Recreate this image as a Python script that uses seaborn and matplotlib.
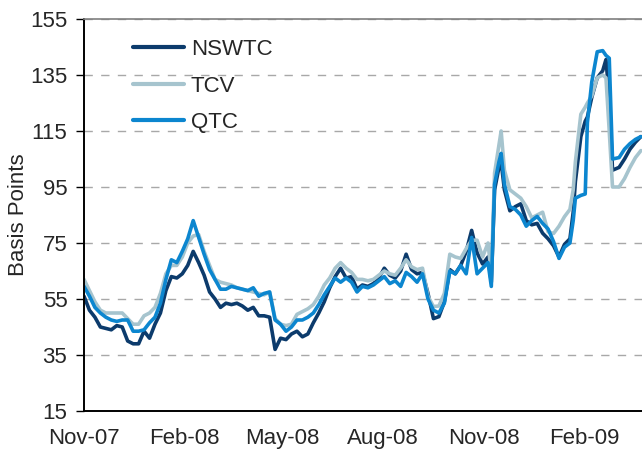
import pandas as pd
import numpy as np
from matplotlib import pyplot as plt
import matplotlib.dates as mdates
import seaborn as sns

# days after 1 Nov 2007
days = [0, 5, 10, 15, 20, 25, 30, 35, 40, 45, 50, 55, 60, 65, 70, 75, 80, 85, 90, 95,
        100, 105, 110, 115, 120, 125, 130, 135, 140, 145, 150, 155, 160, 165, 170, 175,
        180, 185, 190, 195, 200, 205, 210, 215, 220, 225, 230, 235, 240, 245, 250, 255,
        260, 265, 270, 275, 280, 285, 290, 295, 300, 305, 310, 315, 320, 325, 330, 335,
        340, 345, 350, 355, 360, 365, 370, 373, 376, 380, 382, 385, 390, 395, 400, 405,
        410, 415, 420, 425, 430, 435, 440, 445, 448, 450, 455, 459, 461, 465, 470, 475,
        478, 481, 484, 490, 495, 500, 505, 510]

nswtc = [56, 51, 48.5, 45, 44.5, 44, 45.5, 45, 40, 39, 39, 43.5, 41, 46, 50, 58, 63, 62.5, 64, 67,
         72, 68, 63.5, 57.5, 55, 52, 53.5, 53, 53.5, 52.5, 51, 52, 49, 49, 48.5, 37,
         41, 40.5, 42.5, 43.5, 41.5, 42.5, 46.5, 50, 54, 59, 63, 66, 62.5, 63, 58.5, 60,
         59.5, 60.5, 62.5, 66, 63.5, 62.5, 65, 71, 65.5, 64, 64.5, 57, 48, 48.7, 54, 65.5,
         64, 67, 72, 79.5, 71.5, 67.5, 70, 61, 94, 102, 104, 94, 86.5, 88, 89, 83,
         81.5, 82, 78.5, 76.5, 74, 70, 74.5, 76.5, 86, 97, 113, 118.5, 120, 127, 134, 136.5,
         140.5, 127, 101, 102, 105, 108.5, 111, 113]

tcv = [62, 58, 54, 51, 50, 50, 50, 50, 48, 46, 46, 49, 50, 52, 57, 64, 67, 67, 70, 75,
       77.5, 78, 72, 67, 62, 61, 60.5, 60, 59, 58.5, 58, 57.5, 57, 56.5, 57.5, 48,
       46, 45.5, 46, 49.5, 50.5, 51.5, 53, 56, 60, 62.5, 66, 68, 66, 64.5, 62, 62,
       61.5, 62, 63.5, 65, 64, 63.5, 66, 69, 66.5, 65.5, 66, 56, 52.3, 52.5, 57, 71,
       70, 69.5, 73, 76, 76, 70, 75, 64, 100, 110, 115, 101, 94, 92.5, 91, 88,
       84, 85, 86, 79, 78.4, 81, 84.4, 87, 94, 104, 121, 123.5, 125, 127.5, 134, 135,
       134, 115, 95, 95, 98, 102, 105.5, 108]

qtc = [59.5, 56, 52, 50, 48.5, 47.5, 47, 47.5, 47.5, 43.5, 43.5, 44, 46.5, 48.5, 53.5, 62, 69, 68, 72, 76.5,
       83, 77, 71, 65.5, 62, 58.5, 58.5, 59.5, 59, 58.5, 58, 59, 56, 57, 57.5, 47.5,
       46, 43.5, 45, 47.5, 47.5, 48.5, 50, 53, 56.5, 59.5, 62.5, 61, 62.5, 61, 57.5, 59.5,
       59, 60, 61.5, 63, 60.5, 61.5, 59.5, 64.5, 63, 61, 64, 55, 51, 50, 53.5, 65,
       64, 67, 64, 77, 64, 66, 68, 59.5, 96, 104, 107, 96, 88, 87, 85, 81,
       83, 84.5, 82, 80, 75.5, 69.5, 73.5, 75, 83, 91, 92, 92.5, 118, 132.5, 143.3, 143.7,
       142, 141, 105, 105.5, 108.5, 110.5, 112, 113]

series_names = ["NSWTC", "TCV", "QTC"]
colors = ["#0C3B6C", "#A6C4CE", "#0C86CF"]

start = pd.Timestamp("2007-11-01")
dates = start + pd.to_timedelta(days, unit="D")

df = pd.DataFrame({"date": dates, "NSWTC": nswtc, "TCV": tcv, "QTC": qtc})
long_df = df.melt(id_vars="date", var_name="series", value_name="bp")

sns.set_style("white")
plt.rcParams["font.family"] = ["Liberation Sans", "DejaVu Sans"]

fig = plt.figure(figsize=(6.42, 4.5), dpi=100)
ax = fig.add_axes([84 / 642, 39 / 450, 558 / 642, 392 / 450])

sns.lineplot(data=long_df, x="date", y="bp", hue="series", hue_order=series_names,
             palette=colors, linewidth=2.6, ax=ax, legend=False)

ax.set_xlim(pd.Timestamp("2007-11-01"), pd.Timestamp("2009-03-26"))
ax.set_ylim(15, 155)
ax.set_yticks(range(15, 156, 20))
ax.xaxis.set_major_locator(mdates.MonthLocator(bymonth=[2, 5, 8, 11]))
ax.xaxis.set_major_formatter(mdates.DateFormatter("%b-%y"))

ax.yaxis.grid(True, linestyle=(0, (6, 6)), color="#A8A8A8", linewidth=1)
ax.xaxis.grid(False)
ax.set_axisbelow(True)

for side in ["left", "bottom"]:
    ax.spines[side].set_color("black")
    ax.spines[side].set_linewidth(1.4)
ax.spines["top"].set_color("#7F7F7F")
ax.spines["top"].set_linewidth(1.2)
ax.spines["right"].set_visible(False)

ax.tick_params(axis="y", length=6, width=1, color="black", direction="out", pad=6, labelsize=16, left=True)
ax.tick_params(axis="x", length=0, pad=12, labelsize=16)

ax.set_xlabel("")
ax.set_ylabel("Basis Points", fontsize=16, labelpad=1)

handles = [plt.Line2D([], [], color=c, linewidth=3) for c in colors]
ax.legend(handles, series_names, loc="upper left", bbox_to_anchor=(133 / 642, 1 - 39 / 450),
          bbox_transform=fig.transFigure, frameon=False, fontsize=16, handlelength=2.3,
          handletextpad=0.3, labelspacing=0.7, borderpad=0, borderaxespad=0)

fig.savefig("out.png", dpi=100)
